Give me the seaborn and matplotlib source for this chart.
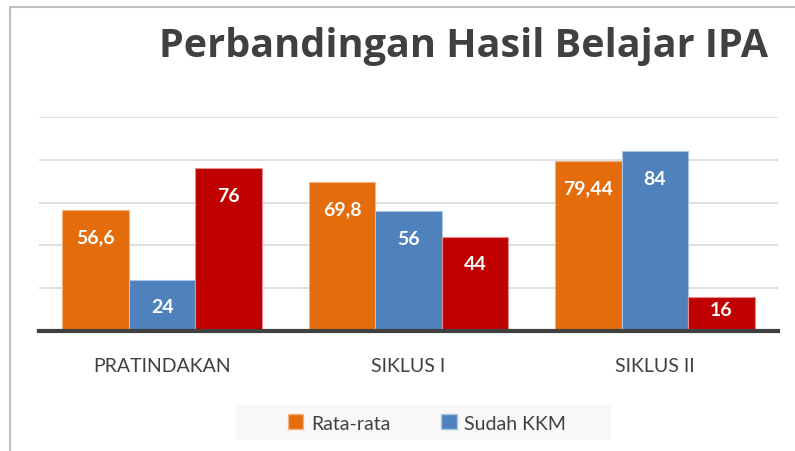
import numpy as np
import pandas as pd
import matplotlib
matplotlib.use("Agg")
import matplotlib.pyplot as plt
from matplotlib.patches import Patch, Rectangle
from matplotlib.lines import Line2D
import seaborn as sns

# data
kategori = ["PRATINDAKAN", "SIKLUS I", "SIKLUS II"]
rata_rata = [56.6, 69.8, 79.44]
sudah_kkm = [24, 56, 84]
belum_kkm = [76, 44, 16]
seri = ["Rata-rata", "Sudah KKM", "Belum KKM"]
warna = ["#E46C0A", "#4F81BD", "#C00000"]
y_ticks = [0, 20, 40, 60, 80, 100]

df = pd.DataFrame({
    "kategori": kategori * 3,
    "nilai": rata_rata + sudah_kkm + belum_kkm,
    "seri": [s for s in seri for _ in kategori],
})

sns.set_style("white")
plt.rcParams["font.family"] = ["Lato", "DejaVu Sans"]

fig = plt.figure(figsize=(7.95, 4.52), dpi=100)
ax = fig.add_axes([39 / 795, 1 - 332 / 452, 739 / 795, (332 - 118) / 452])

sns.barplot(data=df, x="kategori", y="nilai", hue="seri", hue_order=seri,
            palette=warna, saturation=1, width=0.81, legend=False,
            linewidth=0.8, ax=ax, zorder=3)

# lighter edge per series
edge = ["#F4B183", "#A9C4E4", "#E59090"]
for cont, e in zip(ax.containers, edge):
    for p in cont:
        p.set_edgecolor(e)

# data labels (inside end, pushed up when the bar is short)
fig.canvas.draw()
px_per_unit = ax.transData.transform((0, 1))[1] - ax.transData.transform((0, 0))[1]
nilai_seri = [rata_rata, sudah_kkm, belum_kkm]
for cont, vals in zip(ax.containers, nilai_seri):
    for p, v in zip(cont, vals):
        h_px = p.get_height() * px_per_unit
        off_px = min(27, max(h_px - 26, 8))
        ax.annotate(f"{v:g}".replace(".", ","),
                    (p.get_x() + p.get_width() / 2, p.get_height()),
                    xytext=(0, -off_px * 0.72), textcoords="offset points",
                    ha="center", va="center", color="white",
                    fontsize=14, fontweight="bold", zorder=5)

ax.set_xlim(-0.5, 2.5)
ax.set_ylim(0, 100)
ax.set_yticks(y_ticks)
ax.yaxis.grid(True, color="#d9d9d9", linewidth=1.2, zorder=0)
ax.set_axisbelow(True)
ax.tick_params(axis="y", left=False, labelleft=False)
ax.tick_params(axis="x", bottom=False, labelsize=14, labelcolor="#404040", pad=15)
ax.set_xlabel("")
ax.set_ylabel("")
for s in ["left", "right", "top"]:
    ax.spines[s].set_visible(False)
ax.spines["bottom"].set_color("#404040")
ax.spines["bottom"].set_linewidth(3)
ax.spines["bottom"].set_zorder(4)

# title
fig.text(464 / 795, 1 - 46 / 452, "Perbandingan Hasil Belajar IPA",
         ha="center", va="center", fontsize=28.5, fontweight="bold",
         color="#404040", family=["Open Sans", "DejaVu Sans"])

# chart border (left and top)
fig.add_artist(Line2D([10 / 795, 10 / 795], [0, 1 - 8 / 452],
                      transform=fig.transFigure, color="#bfbfbf", linewidth=1.5))
fig.add_artist(Line2D([10 / 795, 1], [1 - 8 / 452, 1 - 8 / 452],
                      transform=fig.transFigure, color="#bfbfbf", linewidth=1.5))

# legend background
fig.add_artist(Rectangle((236 / 795, 1 - 441 / 452), 375 / 795, 35 / 452,
                         transform=fig.transFigure, facecolor="#f8f8f8",
                         edgecolor="none", zorder=0))
handles = [Patch(facecolor=warna[i], edgecolor=edge[i], label=seri[i]) for i in range(2)]
fig.legend(handles=handles, loc="center", bbox_to_anchor=(427 / 795, 1 - 424 / 452),
           ncol=2, frameon=False, fontsize=14, labelcolor="#404040",
           handlelength=0.8, handleheight=0.8, handletextpad=0.4, columnspacing=2.6)

fig.savefig("out.png", dpi=100)
